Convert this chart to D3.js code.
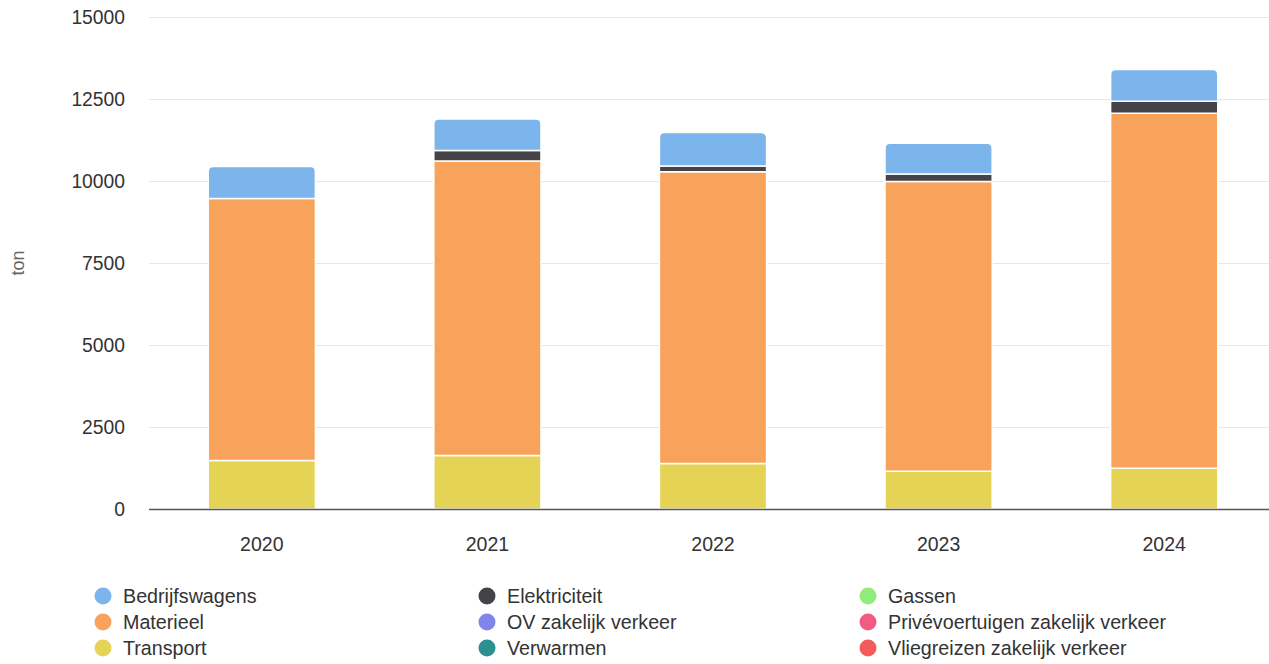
<!DOCTYPE html>
<html><head><meta charset="utf-8">
<script src="https://cdn.jsdelivr.net/npm/d3@7"></script>
<style>body{margin:0;background:#fff;}svg{display:block;font-family:"Liberation Sans",Arial,sans-serif;}</style>
</head><body>
<svg id="c" width="1269" height="664"></svg>
<script>
const years = ["2020","2021","2022","2023","2024"];
const seriesNames = ["Bedrijfswagens","Elektriciteit","Gassen","Materieel","OV zakelijk verkeer","Privévoertuigen zakelijk verkeer","Transport","Verwarmen","Vliegreizen zakelijk verkeer"];
const seriesColors = ["#7cb5ec","#434348","#90ed7d","#f7a35c","#8085e9","#f15c80","#e4d354","#2b908f","#f45b5b"];
const bedrijfswagens = [970, 960, 1015, 935, 965];
const elektriciteit = [0, 320, 180, 230, 370];
const gassen = [0, 0, 0, 0, 0];
const materieel = [7990, 8980, 8890, 8835, 10820];
const ovZakelijk = [0, 0, 0, 0, 0];
const priveVoertuigen = [0, 0, 0, 0, 0];
const transport = [1480, 1630, 1390, 1150, 1245];
const verwarmen = [0, 0, 0, 0, 0];
const vliegreizen = [0, 0, 0, 0, 0];
const yTicks = [0, 2500, 5000, 7500, 10000, 12500, 15000];

const seriesValues = [bedrijfswagens, elektriciteit, gassen, materieel, ovZakelijk, priveVoertuigen, transport, verwarmen, vliegreizen];

const table = years.map((yr, i) => {
  const row = {year: yr};
  seriesNames.forEach((n, k) => row[n] = seriesValues[k][i]);
  return row;
});

const svg = d3.select("#c");
const pLeft = 149, pRight = 1277, pTop = 17, pBottom = 509;
const x = d3.scaleBand().domain(years).range([pLeft, pRight]).padding(0);
const y = d3.scaleLinear().domain([0, 15000]).range([pBottom, pTop]);

// grid
svg.append("g").selectAll("line").data(yTicks.filter(t => t > 0)).join("line")
  .attr("x1", pLeft).attr("x2", pRight)
  .attr("y1", d => y(d) + 0.5).attr("y2", d => y(d) + 0.5)
  .attr("stroke", "#e6e6e6").attr("stroke-width", 1);

// y axis labels
const yAxis = d3.axisLeft(y).tickValues(yTicks).tickSize(0).tickPadding(0).tickFormat(d3.format("d"));
const ya = svg.append("g").attr("transform", `translate(${125},0)`).call(yAxis);
ya.select(".domain").remove();
ya.selectAll("text").attr("font-size", 19.3).attr("fill", "#333").attr("font-family", "Liberation Sans, Arial, sans-serif").attr("dy", "0.35em");

// axis title
svg.append("text").attr("transform", `translate(24,263) rotate(-90)`)
  .attr("text-anchor", "middle").attr("font-size", 18).attr("fill", "#666").text("ton");

// stack (first series on top)
const stackKeys = seriesNames.slice().reverse();
const stacked = d3.stack().keys(stackKeys)(table);
const barW = x.bandwidth() * 0.475;

function topKey(row) {
  for (const n of seriesNames) if (row[n] > 0) return n;
  return null;
}

function segPath(x0, w, yT, yB, r) {
  if (r <= 0) return `M${x0},${yB}V${yT}H${x0 + w}V${yB}Z`;
  r = Math.min(r, (yB - yT));
  return `M${x0},${yB}V${yT + r}Q${x0},${yT} ${x0 + r},${yT}H${x0 + w - r}Q${x0 + w},${yT} ${x0 + w},${yT + r}V${yB}Z`;
}

const gBars = svg.append("g");
stacked.forEach(layer => {
  const key = layer.key;
  const color = seriesColors[seriesNames.indexOf(key)];
  gBars.append("g").selectAll("path").data(layer.filter(d => d[1] - d[0] > 0)).join("path")
    .attr("d", d => {
      const x0 = x(d.data.year) + (x.bandwidth() - barW) / 2;
      const r = topKey(d.data) === key ? 5 : 0;
      return segPath(x0, barW, y(d[1]), y(d[0]), r);
    })
    .attr("fill", color).attr("stroke", "#fff").attr("stroke-width", 1.5);
});

// x axis
svg.append("line").attr("x1", pLeft).attr("x2", pRight).attr("y1", pBottom + 0.5).attr("y2", pBottom + 0.5)
  .attr("stroke", "#555").attr("stroke-width", 1.5);
const xa = svg.append("g").attr("transform", `translate(0,${pBottom})`)
  .call(d3.axisBottom(x).tickSize(0).tickPadding(0));
xa.select(".domain").remove();
xa.selectAll("text").attr("font-size", 19.5).attr("fill", "#333").attr("font-family", "Liberation Sans, Arial, sans-serif").attr("dy", "0").attr("y", 42);

// legend
const colX = [103, 487, 868];
const rowY = [596, 622, 648];
const lg = svg.append("g");
seriesNames.forEach((n, i) => {
  const cx = colX[i % 3], cy = rowY[Math.floor(i / 3)];
  lg.append("circle").attr("cx", cx).attr("cy", cy).attr("r", 8.5).attr("fill", seriesColors[i]);
  lg.append("text").attr("x", cx + 20).attr("y", cy).attr("dy", "0.35em")
    .attr("font-size", 19.7).attr("fill", "#333").text(n);
});
</script>
</body></html>
